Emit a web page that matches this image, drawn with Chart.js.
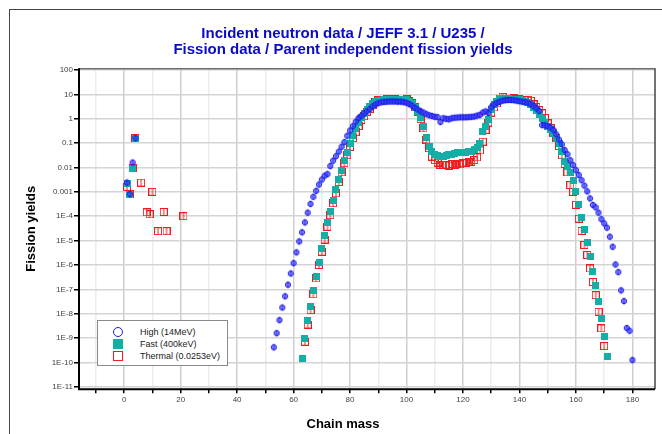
<!DOCTYPE html>
<html>
<head>
<meta charset="utf-8">
<title>U235 fission yields</title>
<script src="https://cdn.jsdelivr.net/npm/chart.js@4.4.0/dist/chart.umd.min.js"></script>
<style>
    html, body { margin: 0; padding: 0; background: #fff; overflow: hidden; }
    body { width: 662px; height: 434px; position: relative; }
    #frame { position: absolute; left: 9px; top: 9px; width: 720px; height: 520px; border-left: 1px solid #444; border-top: 1px solid #444; }
    #wrap { position: absolute; left: 0; top: 0; width: 686px; height: 434px; }
    #legend {
        position: absolute; left: 97px; top: 320px; width: 129px; height: 44px;
        border: 1px solid #8a8a8a; background: #fff;
        font: 9px 'Liberation Sans', Arial, sans-serif; color: #222;
    }
    #legend .row { position: absolute; left: 0; height: 12px; line-height: 12px; }
    #legend .sym { position: absolute; box-sizing: border-box; }
    #legend .txt { position: absolute; left: 42px; white-space: nowrap; }
</style>
</head>
<body>
<div id="frame"></div>
<div id="wrap"><canvas id="chart" width="686" height="434"></canvas></div>
<div id="legend">
    <div class="row" style="top:5px"><span class="sym" style="left:15px;top:1px;width:10px;height:10px;border:1.5px solid #1a1af0;border-radius:50%"></span><span class="txt">High (14MeV)</span></div>
    <div class="row" style="top:17px"><span class="sym" style="left:15px;top:1px;width:10px;height:10px;background:#14aea6"></span><span class="txt">Fast (400keV)</span></div>
    <div class="row" style="top:29px"><span class="sym" style="left:15px;top:1px;width:10px;height:10px;border:1.5px solid #ee1c1c"></span><span class="txt">Thermal (0.0253eV)</span></div>
</div>
<script>
// chain yields in %
const highMass = [1, 2, 3, 4,
    53, 54, 55, 56, 57, 58, 59, 60, 61, 62, 63, 64, 65, 66, 67, 68, 69, 70,
    71, 72, 73, 74, 75, 76, 77, 78, 79, 80, 81, 82, 83, 84, 85, 86, 87, 88, 89, 90,
    91, 92, 93, 94, 95, 96, 97, 98, 99, 100, 101, 102, 103, 104, 105, 106, 107, 108, 109, 110,
    111, 112, 113, 114, 115, 116, 117, 118, 119, 120, 121, 122, 123, 124, 125, 126, 127, 128, 129, 130,
    131, 132, 133, 134, 135, 136, 137, 138, 139, 140, 141, 142, 143, 144, 145, 146, 147, 148, 149, 150,
    151, 152, 153, 154, 155, 156, 157, 158, 159, 160, 161, 162, 163, 164, 165, 166, 167, 168, 169, 170,
    171, 172, 173, 174, 175, 176, 177, 178, 179, 180];
const highYield = [2.4e-3, 8.1e-4, 1.6e-2, 0.16,
    4.2e-10, 1.6e-9, 5.5e-9, 1.8e-8, 5.2e-8, 1.55e-7, 4.5e-7, 1.2e-6, 3.3e-6, 9.3e-6, 2.2e-5, 5.6e-5, 1.4e-4, 3.2e-4, 6.3e-4, 1.1e-3, 2.0e-3, 3.2e-3,
    4.6e-3, 5.4e-3, 1.15e-2, 1.9e-2, 2.9e-2, 4.5e-2, 7.1e-2, 0.11, 0.20, 0.33, 0.50, 0.76, 1.07, 1.32, 1.66, 2.0, 2.5, 3.2, 3.8, 4.4,
    4.7, 4.9, 5.0, 5.1, 5.1, 5.1, 5.0, 5.0, 4.8, 4.5, 4.0, 3.4, 2.8, 2.4, 2.0, 1.8, 1.55, 1.4, 1.3, 1.2,
    1.17, 0.74, 1.05, 1.0, 0.95, 1.05, 1.1, 1.12, 1.15, 1.15, 1.15, 1.17, 1.2, 1.23, 1.35, 1.45, 1.8, 2.0, 1.74, 2.95,
    3.8, 4.5, 5.0, 5.5, 5.75, 5.9, 5.9, 5.75, 5.5, 5.25, 5.0, 4.8, 4.5, 4.0, 3.3, 2.7, 2.1, 0.55, 0.54, 0.50,
    0.44, 0.35, 0.23, 0.14, 8.9e-2, 5.2e-2, 3.5e-2, 2.0e-2, 1.26e-2, 7.8e-3, 4.9e-3, 3.0e-3, 1.8e-3, 1.05e-3, 5.4e-4, 2.9e-4, 2.3e-4, 1.4e-4, 7.6e-5, 5.1e-5,
    3.4e-5, 1.45e-5, 5.6e-6, 1.05e-6, 5.1e-7, 9.1e-8, 3.3e-8, 2.6e-9, 2.0e-9, 1.26e-10];

const fastMass = [1, 2, 3, 4,
    63, 64, 65, 66, 67, 68, 69, 70,
    71, 72, 73, 74, 75, 76, 77, 78, 79, 80, 81, 82, 83, 84, 85, 86, 87, 88, 89, 90,
    91, 92, 93, 94, 95, 96, 97, 98, 99, 100, 101, 102, 103, 104, 105, 106, 107, 108, 109, 110,
    111, 112, 113, 114, 115, 116, 117, 118, 119, 120, 121, 122, 123, 124, 125, 126, 127, 128, 129, 130,
    131, 132, 133, 134, 135, 136, 137, 138, 139, 140, 141, 142, 143, 144, 145, 146, 147, 148, 149, 150,
    151, 152, 153, 154, 155, 156, 157, 158, 159, 160, 161, 162, 163, 164, 165, 166, 167, 168, 169, 170,
    171];
const fastYield = [2.2e-3, 8.1e-4, 9.1e-3, 0.16,
    1.4e-10, 9.3e-10, 5.1e-9, 2.0e-8, 8.7e-8, 3.5e-7, 1.3e-6, 4.9e-6,
    1.7e-5, 5.4e-5, 1.5e-4, 4.6e-4, 1.2e-3, 3.2e-3, 7.8e-3, 1.9e-2, 4.1e-2, 9.8e-2, 0.21, 0.40, 0.71, 1.12, 1.66, 2.4, 3.3, 4.2, 5.0, 5.6,
    5.8, 5.9, 6.1, 6.2, 6.2, 6.0, 5.9, 5.9, 6.0, 5.9, 5.2, 4.3, 3.0, 2.0, 1.1, 0.47, 0.17, 7.1e-2, 4.5e-2, 3.5e-2,
    3.0e-2, 2.75e-2, 2.9e-2, 3.0e-2, 3.3e-2, 3.5e-2, 3.8e-2, 4.0e-2, 4.1e-2, 4.2e-2, 4.3e-2, 4.5e-2, 4.7e-2, 5.6e-2, 6.6e-2, 9.8e-2, 0.30, 0.47, 0.95, 2.3,
    3.8, 5.0, 6.0, 6.5, 6.6, 6.6, 6.3, 6.2, 6.0, 5.9, 5.6, 5.2, 4.8, 4.0, 3.0, 2.2, 1.5, 1.05, 0.71, 0.47,
    0.35, 0.25, 0.16, 9.8e-2, 4.5e-2, 1.8e-2, 1.07e-2, 6.0e-3, 2.8e-3, 1.0e-3, 2.95e-4, 8.5e-5, 2.8e-5, 8.1e-6, 2.2e-6, 5.6e-7, 1.4e-7, 3.1e-8, 6.2e-9, 1.2e-9,
    1.7e-10];

const thermalMass = [1, 2, 3, 4, 6, 8, 9, 10, 12, 14, 15, 21,
    64, 65, 66, 67, 68, 69, 70,
    71, 72, 73, 74, 75, 76, 77, 78, 79, 80, 81, 82, 83, 84, 85, 86, 87, 88, 89, 90,
    91, 92, 93, 94, 95, 96, 97, 98, 99, 100, 101, 102, 103, 104, 105, 106, 107, 108, 109, 110,
    111, 112, 113, 114, 115, 116, 117, 118, 119, 120, 121, 122, 123, 124, 125, 126, 127, 128, 129, 130,
    131, 132, 133, 134, 135, 136, 137, 138, 139, 140, 141, 142, 143, 144, 145, 146, 147, 148, 149, 150,
    151, 152, 153, 154, 155, 156, 157, 158, 159, 160, 161, 162, 163, 164, 165, 166, 167, 168, 169, 170];
const thermalYield = [1.6e-3, 8.1e-4, 9.1e-3, 0.16, 2.4e-3, 1.45e-4, 1.2e-4, 1.0e-3, 2.45e-5, 1.5e-4, 2.45e-5, 1.0e-4,
    7.1e-10, 3.6e-9, 1.4e-8, 6.2e-8, 2.8e-7, 1.0e-6, 3.5e-6,
    1.1e-5, 3.7e-5, 1.1e-4, 3.4e-4, 8.7e-4, 2.5e-3, 6.3e-3, 1.5e-2, 3.2e-2, 7.1e-2, 0.16, 0.28, 0.50, 0.89, 1.26, 1.95, 2.6, 3.6, 4.7, 5.8,
    5.9, 6.0, 6.4, 6.5, 6.5, 6.3, 6.0, 5.8, 6.1, 6.3, 5.2, 4.3, 3.0, 1.9, 0.96, 0.40, 0.14, 6.2e-2, 2.8e-2, 2.0e-2,
    1.6e-2, 1.26e-2, 1.3e-2, 1.26e-2, 1.2e-2, 1.4e-2, 1.3e-2, 1.4e-2, 1.35e-2, 1.5e-2, 1.6e-2, 1.65e-2, 1.75e-2, 2.0e-2, 2.6e-2, 5.0e-2, 0.115, 0.35, 0.70, 1.8,
    2.9, 4.3, 6.7, 7.9, 6.5, 6.3, 6.2, 6.8, 6.4, 6.2, 5.8, 5.9, 6.0, 5.5, 3.9, 3.0, 2.25, 1.67, 1.08, 0.65,
    0.42, 0.27, 0.16, 7.6e-2, 3.2e-2, 1.4e-2, 6.3e-3, 1.9e-3, 1.0e-3, 2.95e-4, 7.9e-5, 2.5e-5, 6.6e-6, 2.6e-6, 7.2e-7, 2.0e-7, 5.8e-8, 1.2e-8, 2.5e-9, 4.7e-10];

const yTickValues = [100, 10, 1, 0.1, 0.01, 0.001, 1e-4, 1e-5, 1e-6, 1e-7, 1e-8, 1e-9, 1e-10, 1e-11];
const yTickLabels = ['100', '10', '1', '0.1', '0.01', '0.001', '1E-4', '1E-5', '1E-6', '1E-7', '1E-8', '1E-9', '1E-10', '1E-11'];
const xTickValues = [-10, 0, 10, 20, 30, 40, 50, 60, 70, 80, 90, 100, 110, 120, 130, 140, 150, 160, 170, 180];

const FONT = "'Liberation Sans', Arial, sans-serif";

function toPoints(xs, ys) {
    return xs.map((x, i) => ({ x: x, y: ys[i] }));
}

// little bitmaps used as point styles
function marker(w, h, paint) {
    const c = document.createElement('canvas');
    c.width = w;
    c.height = h;
    paint(c.getContext('2d'));
    return c;
}

const highMark = marker(8, 10, g => {
    g.fillStyle = 'rgba(70,70,255,0.6)';
    g.strokeStyle = '#1c1cf0';
    g.lineWidth = 1;
    g.beginPath();
    g.arc(4, 5, 2.6, 0, Math.PI * 2);
    g.fill();
    g.stroke();
    g.strokeStyle = 'rgba(20,20,230,0.8)';
    g.beginPath();
    g.moveTo(4, 1.5);
    g.lineTo(4, 8.5);
    g.stroke();
});

const fastMark = marker(7, 7, g => {
    g.fillStyle = '#14aea6';
    g.fillRect(0, 0, 7, 7);
});

const thermalMark = marker(8, 8, g => {
    g.strokeStyle = '#ee1c1c';
    g.lineWidth = 1;
    g.strokeRect(0.5, 0.5, 7, 7);
    g.beginPath();
    g.moveTo(4, 1);
    g.lineTo(4, 8);
    g.stroke();
});

// axis frame: thick black left/bottom, thinner top/right
const plotFrame = {
    id: 'plotFrame',
    beforeDatasetsDraw(chart) {
        const { ctx, chartArea: a } = chart;
        ctx.save();
        ctx.strokeStyle = '#333';
        ctx.lineWidth = 1;
        ctx.beginPath();
        ctx.moveTo(a.left, a.top + 0.5);
        ctx.lineTo(a.right, a.top + 0.5);
        ctx.stroke();
        ctx.lineWidth = 1.5;
        ctx.strokeStyle = '#444';
        ctx.beginPath();
        ctx.moveTo(a.right, a.top);
        ctx.lineTo(a.right, a.bottom);
        ctx.stroke();
        ctx.strokeStyle = '#000';
        ctx.lineWidth = 2;
        ctx.beginPath();
        ctx.moveTo(a.left, a.top);
        ctx.lineTo(a.left, a.bottom);
        ctx.lineTo(a.right, a.bottom);
        ctx.stroke();
        ctx.restore();
    }
};

const ctx = document.getElementById('chart').getContext('2d');

const myChart = new Chart(ctx, { // eslint-disable-line
    type: 'scatter',
    data: {
        datasets: [
            {
                label: 'High (14MeV)',
                data: toPoints(highMass, highYield),
                pointStyle: highMark,
                radius: 4
            },
            {
                label: 'Fast (400keV)',
                data: toPoints(fastMass, fastYield),
                pointStyle: fastMark,
                radius: 4
            },
            {
                label: 'Thermal (0.0253eV)',
                data: toPoints(thermalMass, thermalYield),
                pointStyle: thermalMark,
                radius: 4
            }
        ]
    },
    plugins: [plotFrame],
    options: {
        responsive: false,
        animation: false,
        devicePixelRatio: 1,
        layout: { padding: 0 },
        plugins: {
            legend: { display: false },
            tooltip: { enabled: false },
            title: {
                display: true,
                text: ['Incident neutron data / JEFF 3.1 / U235 /', 'Fission data / Parent independent fission yields'],
                color: '#0a0acc',
                font: { family: FONT, size: 15, weight: 'bold', lineHeight: 1.05 },
                padding: { top: 26, bottom: 10.8 }
            },
            subtitle: {
                display: true,
                position: 'bottom',
                text: 'Chain mass',
                color: '#000',
                font: { family: FONT, size: 13, weight: 'bold', lineHeight: 1.2 },
                padding: { top: 0, bottom: 2 }
            }
        },
        scales: {
            x: {
                type: 'linear',
                min: -16,
                max: 188,
                bounds: 'data',
                afterBuildTicks: s => { s.ticks = xTickValues.map(v => ({ value: v })); },
                afterFit: s => { s.height = 27.1; },
                ticks: {
                    autoSkip: false,
                    maxRotation: 0,
                    padding: 2,
                    color: '#444',
                    font: { family: FONT, size: 8 },
                    callback: v => (v % 20 === 0 ? String(v) : '')
                },
                grid: {
                    color: c => (c.tick && c.tick.value % 20 === 0 ? '#cfcfcf' : '#ececec'),
                    lineWidth: 1.5,
                    tickLength: 4,
                    tickColor: '#000'
                },
                border: { display: false }
            },
            y: {
                type: 'logarithmic',
                min: Math.pow(10, -11.1),
                max: Math.pow(10, 2.07),
                bounds: 'data',
                afterBuildTicks: s => { s.ticks = yTickValues.map(v => ({ value: v })); },
                afterFit: s => { s.width = 79; },
                ticks: {
                    padding: 1,
                    color: '#444',
                    font: { family: FONT, size: 8 },
                    callback: (v, i) => yTickLabels[i]
                },
                grid: {
                    color: '#d4d4d4',
                    lineWidth: 1.5,
                    tickLength: 5,
                    tickColor: '#000'
                },
                border: { display: false },
                title: {
                    display: true,
                    text: 'Fission yields',
                    color: '#000',
                    font: { family: FONT, size: 13, weight: 'bold', lineHeight: 1.2 },
                    padding: { top: 24, bottom: 0 }
                }
            },
            // empty axis, only keeps the right margin
            spacer: {
                type: 'linear',
                position: 'right',
                afterFit: s => { s.width = 31; },
                grid: { display: false },
                ticks: { display: false },
                border: { display: false }
            }
        }
    }
});
</script>
</body>
</html>
